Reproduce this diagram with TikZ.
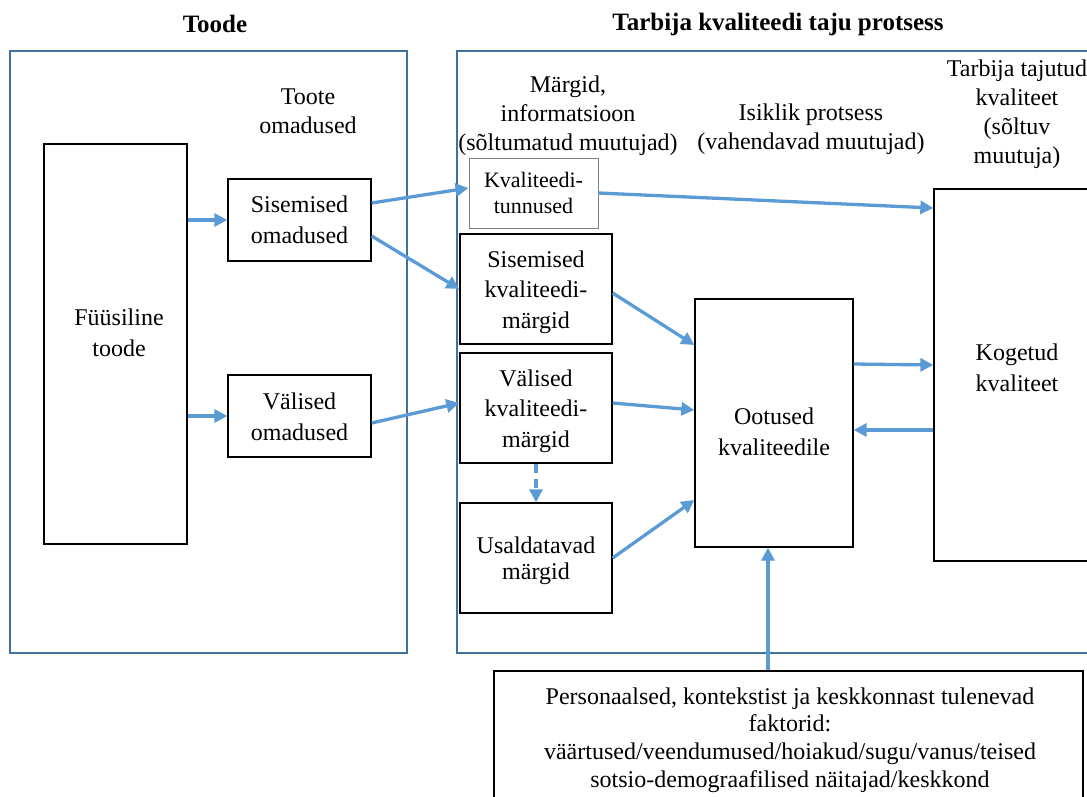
\documentclass[tikz,border=0pt]{standalone}
\usepackage{fontspec}
\setmainfont{Liberation Serif}
\usetikzlibrary{arrows.meta,calc}
\definecolor{arrblue}{HTML}{5B9BD5}
\definecolor{frameblue}{HTML}{41719C}
\tikzset{
  box/.style={draw=black, line width=1.3pt, fill=white, inner sep=0pt},
  txt/.style={align=center, inner sep=0pt, font=\fontsize{24}{30.5}\selectfont},
  outer/.style={draw=frameblue, line width=1.4pt},
  lbl/.style={align=center, font=\fontsize{24}{29}\selectfont},
  ttl/.style={font=\fontsize{25}{28}\selectfont\bfseries},
  arr/.style={draw=arrblue, line width=3.3pt, -{Triangle[length=13pt,width=13pt]}},
}
\begin{document}
\begin{tikzpicture}[x=1pt,y=-1pt]
\useasboundingbox (0,0) rectangle (1087,796);
\clip (0,0) rectangle (1087,796);
% titles
\node[ttl] (t1) at (215,24) {Toode};
\node[ttl] (t2) at (778,24) {Tarbija kvaliteedi taju protsess};
% outer frames
\node[outer, minimum width=397pt, minimum height=602pt] (lframe) at (208.5,352) {};
\node[outer, minimum width=643pt, minimum height=602pt] (rframe) at (778.5,352) {};
% headers
\node[lbl] (h0) at (308,111) {Toote\\omadused};
\node[lbl] (h1) at (568,116) {Märgid,\\informatsioon\\(sõltumatud muutujad)};
\node[lbl] (h2) at (811,129) {Isiklik protsess\\(vahendavad muutujad)};
\node[lbl] (h3) at (1017,114) {Tarbija tajutud\\kvaliteet\\(sõltuv\\muutuja)};
% boxes
\node[box, minimum width=143pt, minimum height=400pt] (fys) at (115.5,344) {};
\node[txt] (fyst) at (119,333) {Füüsiline\\toode};
\node[box, minimum width=143pt, minimum height=82pt] (sis) at (299.5,220) {};
\node[txt] (sist) at (sis.center) {Sisemised\\omadused};
\node[box, minimum width=143pt, minimum height=82pt] (val) at (299.5,416) {};
\node[txt] (valt) at (299.5,417) {Välised\\omadused};
\node[box, draw=gray, line width=1pt, minimum width=129pt, minimum height=70pt] (kt) at (533.5,193) {};
\node[txt, font=\fontsize{22}{26}\selectfont] (ktt) at (kt.center) {Kvaliteedi-\\tunnused};
\node[box, minimum width=152pt, minimum height=110pt] (skm) at (536,289) {};
\node[txt] (skmt) at (536,292) {Sisemised\\kvaliteedi-\\märgid};
\node[box, minimum width=152pt, minimum height=110pt] (vkm) at (536,408) {};
\node[txt] (vkmt) at (536,411) {Välised\\kvaliteedi-\\märgid};
\node[box, minimum width=152pt, minimum height=110pt] (um) at (536,558) {};
\node[txt, font=\fontsize{24}{26}\selectfont] (umt) at (536,561) {Usaldatavad\\märgid};
\node[box, minimum width=158pt, minimum height=248pt] (oot) at (774,423) {};
\node[txt] (oott) at (774,432) {Ootused\\kvaliteedile};
\node[box, minimum width=161pt, minimum height=372pt] (kog) at (1014.5,375) {};
\node[txt] (kogt) at (1017,368) {Kogetud\\kvaliteet};
\node[box, minimum width=589pt, minimum height=140pt] (bot) at (788.5,741) {};
\node[txt, font=\fontsize{24}{27.7}\selectfont] (bott) at (790,740)
  {Personaalsed, kontekstist ja keskkonnast tulenevad\\faktorid:\\väärtused/veendumused/hoiakud/sugu/vanus/teised\\sotsio-demograafilised näitajad/keskkond};
% connectors
\draw[arr] (fys.east |- sis.west) -- (sis.west);
\draw[arr] (fys.east |- val.west) -- (val.west);
\draw[arr] ([yshift=17pt]sis.east) -- ([yshift=5pt]kt.west);
\draw[arr] ([yshift=-16pt]sis.east) -- (skm.west);
\draw[arr] ([yshift=-7pt]val.east) -- ([yshift=5pt]vkm.west);
\draw[arr] (kt.east) -- ([yshift=167pt]kog.west);
\draw[arr] ([yshift=-4pt]skm.east) -- ([yshift=78pt]oot.west);
\draw[arr] ([yshift=5pt]vkm.east) -- ([yshift=13pt]oot.west);
\draw[arr, dash pattern=on 9pt off 6pt] (vkm.south) -- (um.north);
\draw[arr] (um.east) -- ([yshift=-77pt]oot.west);
\draw[arr] ([yshift=59pt]oot.east) -- ([yshift=10pt]kog.west);
\draw[arr] ([yshift=-55pt]kog.west) -- ([yshift=-7pt]oot.east);
\draw[arr] ([xshift=-6pt]oot.south |- bot.north) -- ([xshift=-6pt]oot.south);
\end{tikzpicture}
\end{document}
